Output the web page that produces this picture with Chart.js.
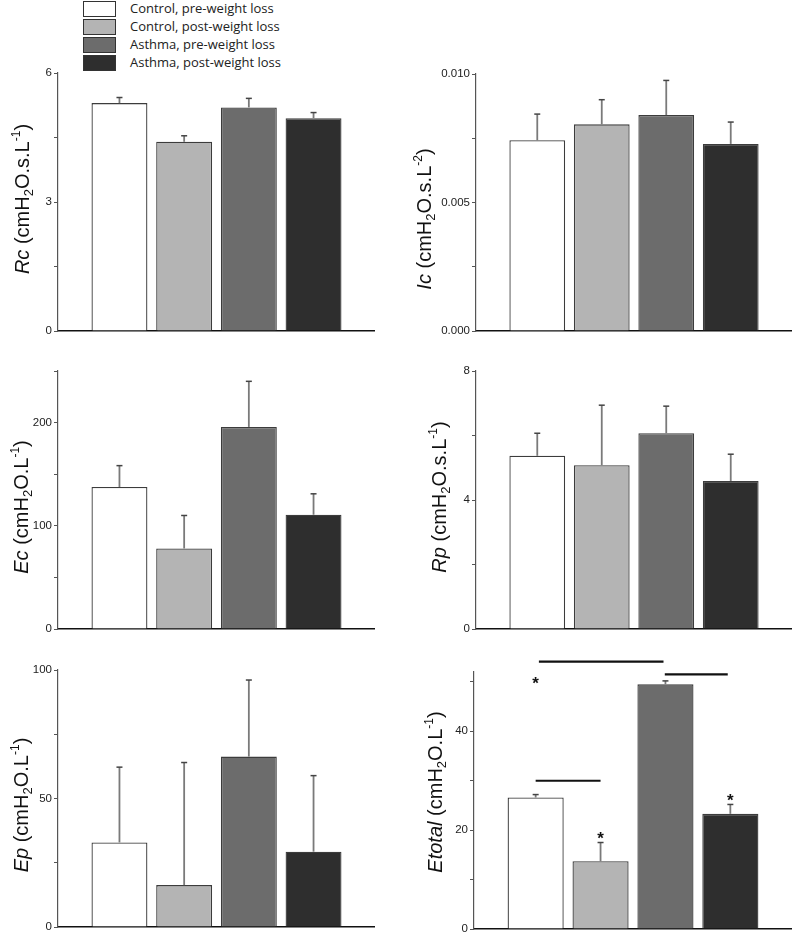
<!DOCTYPE html>
<html>
<head>
<meta charset="utf-8">
<script src="https://cdn.jsdelivr.net/npm/chart.js@4.4.0/dist/chart.umd.min.js"></script>
<style>
  body { margin: 0; background: #fff; width: 792px; height: 932px; position: relative; overflow: hidden; font-family: "Liberation Sans", Arial, sans-serif; }
  canvas { position: absolute; }
  .ytitle { position: absolute; white-space: nowrap; font-size: 20px; line-height: 20px; color: #111; transform: translate(-50%, -50%) rotate(-90deg); }
  .ytitle sub { font-size: 13px; vertical-align: -0.3em; line-height: 0; }
  .ytitle sup { font-size: 12px; vertical-align: 0.75em; line-height: 0; }
  .leg-row { position: absolute; left: 83px; height: 16px; }
  .leg-box { position: absolute; left: 0; top: 0; width: 31px; height: 14px; border: 1.5px solid #333; }
  .leg-text { position: absolute; left: 47px; top: -1px; white-space: nowrap; font-family: "Open Sans", sans-serif; font-size: 13px; line-height: 17px; color: #222; }
</style>
</head>
<body>
<div id="legend"></div>
<canvas id="rc"></canvas>
<canvas id="ic"></canvas>
<canvas id="ec"></canvas>
<canvas id="rp"></canvas>
<canvas id="ep"></canvas>
<canvas id="et"></canvas>
<div class="ytitle" style="left:22px;top:199px"><i>Rc</i> (cmH<sub>2</sub>O.s.L<sup>-1</sup>)</div>
<div class="ytitle" style="left:424px;top:219px"><i>Ic</i> (cmH<sub>2</sub>O.s.L<sup>-2</sup>)</div>
<div class="ytitle" style="left:21px;top:507px"><i>Ec</i> (cmH<sub>2</sub>O.L<sup>-1</sup>)</div>
<div class="ytitle" style="left:439px;top:497px"><i>Rp</i> (cmH<sub>2</sub>O.s.L<sup>-1</sup>)</div>
<div class="ytitle" style="left:21px;top:805px"><i>Ep</i> (cmH<sub>2</sub>O.L<sup>-1</sup>)</div>
<div class="ytitle" style="left:435px;top:792px"><i>Etotal</i> (cmH<sub>2</sub>O.L<sup>-1</sup>)</div>

<script>
// groups and bar fills
const groups = ["Control, pre-weight loss", "Control, post-weight loss", "Asthma, pre-weight loss", "Asthma, post-weight loss"];
const barColors = ["#ffffff", "#b4b4b4", "#6c6c6c", "#2e2e2e"];
const barX = [1, 2, 3, 4];

// means and upper error (SE) per panel
const rcMean = [5.30, 4.40, 5.20, 4.95];
const rcErr = [0.13, 0.14, 0.21, 0.13];
const icMean = [0.00742, 0.00804, 0.0084, 0.00728];
const icErr = [0.00102, 0.00096, 0.00135, 0.00085];
const ecMean = [137.6, 78, 195.8, 110.7];
const ecErr = [20.7, 32, 44.2, 20.3];
const rpMean = [5.37, 5.08, 6.07, 4.59];
const rpErr = [0.70, 1.86, 0.84, 0.83];
const epMean = [32.9, 16.3, 66.3, 29.3];
const epErr = [29.3, 47.7, 29.8, 29.6];
const etMean = [26.6, 13.7, 49.5, 23.3];
const etErr = [0.6, 3.8, 0.7, 1.9];

// y ticks and their labels
const rcTicks = [0, 1.5, 3, 4.5, 6];
const rcLabels = ["0", "", "3", "", "6"];
const icTicks = [0, 0.0025, 0.005, 0.0075, 0.01];
const icLabels = ["0.000", "", "0.005", "", "0.010"];
const ecTicks = [0, 50, 100, 150, 200, 250];
const ecLabels = ["0", "", "100", "", "200", ""];
const rpTicks = [0, 2, 4, 6, 8];
const rpLabels = ["0", "", "4", "", "8"];
const epTicks = [0, 25, 50, 75, 100];
const epLabels = ["0", "", "50", "", "100"];
const etTicks = [0, 10, 20, 30, 40, 50];
const etLabels = ["0", "", "20", "", "40", ""];

// significance marks on Etotal: [x1, x2, y] and [x, y]
const etSigLines = [[1.05, 2.97, 54.1], [2.99, 3.96, 51.5], [1.0, 2.0, 30]];
const etStars = [[1, 50.4], [2, 19.0], [4, 26.6]];

// legend
const legend = document.getElementById("legend");
groups.forEach((g, i) => {
  const row = document.createElement("div");
  row.className = "leg-row";
  row.style.top = (1 + i * 18) + "px";
  row.innerHTML = `<div class="leg-box" style="background:${barColors[i]}"></div><div class="leg-text">${g}</div>`;
  legend.appendChild(row);
});

const errorBars = {
  id: "errorBars",
  afterDatasetsDraw(chart) {
    const errs = chart.options.plugins.errorBars.errs;
    const ctx = chart.ctx;
    const y = chart.scales.y;
    chart.getDatasetMeta(0).data.forEach((bar, i) => {
      const v = chart.data.datasets[0].data[i].y;
      const top = y.getPixelForValue(v + errs[i]);
      ctx.save();
      ctx.strokeStyle = "#7a7a7a";
      ctx.lineWidth = 1.8;
      ctx.beginPath();
      ctx.moveTo(bar.x, bar.y);
      ctx.lineTo(bar.x, top);
      ctx.stroke();
      ctx.strokeStyle = "#444";
      ctx.lineWidth = 1.5;
      ctx.beginPath();
      ctx.moveTo(bar.x - 3, top);
      ctx.lineTo(bar.x + 3, top);
      ctx.stroke();
      ctx.restore();
    });
  },
};

const sigMarks = {
  id: "sigMarks",
  afterDraw(chart) {
    const opts = chart.options.plugins.sigMarks;
    if (!opts.lines) return;
    const ctx = chart.ctx;
    const xs = chart.scales.x, ys = chart.scales.y;
    ctx.save();
    ctx.strokeStyle = "#111";
    ctx.lineWidth = 2.2;
    opts.lines.forEach(([x1, x2, v]) => {
      ctx.beginPath();
      ctx.moveTo(xs.getPixelForValue(x1), ys.getPixelForValue(v));
      ctx.lineTo(xs.getPixelForValue(x2), ys.getPixelForValue(v));
      ctx.stroke();
    });
    ctx.fillStyle = "#111";
    ctx.font = "bold 17px 'Liberation Sans', Arial";
    ctx.textAlign = "center";
    ctx.textBaseline = "middle";
    opts.stars.forEach(([x, v]) => {
      ctx.fillText("*", xs.getPixelForValue(x), ys.getPixelForValue(v) + 4);
    });
    ctx.restore();
  },
};

const yW = 58;
function makePanel(id, layout, mean, err, max, ticks, labels, extra) {
  const padTop = layout.padTop || 10;
  const padBottom = 10;
  const canvas = document.getElementById(id);
  const left = layout.chartLeft - yW;
  const top = layout.top - padTop;
  const w = layout.chartRight - left;
  const h = layout.bottom + padBottom - top;
  canvas.style.left = left + "px";
  canvas.style.top = top + "px";
  canvas.style.width = w + "px";
  canvas.style.height = h + "px";
  canvas.width = w;
  canvas.height = h;

  new Chart(canvas, {
    type: "bar",
    data: {
      datasets: [{
        data: barX.map((x, i) => ({ x: x, y: mean[i] })),
        backgroundColor: barColors,
        borderColor: "#3c3c3c",
        borderWidth: 1.3,
        barPercentage: 0.91,
        categoryPercentage: 1,
      }],
    },
    options: {
      responsive: false,
      animation: false,
      devicePixelRatio: 1,
      layout: { padding: { top: padTop, bottom: padBottom, left: 0, right: 0 } },
      scales: {
        x: {
          type: "linear",
          min: 0.05,
          max: 4.95,
          offset: false,
          grid: { display: false },
          ticks: { display: false },
          border: { display: true, color: "#111", width: 1.5 },
          afterFit: (s) => { s.height = 0; },
        },
        y: {
          min: 0,
          max: max,
          afterBuildTicks: (s) => { s.ticks = ticks.map((v) => ({ value: v })); },
          afterFit: (s) => { s.width = yW; },
          grid: { display: true, drawOnChartArea: false, drawTicks: true, tickLength: 4, color: "#555", lineWidth: 1 },
          border: { display: true, color: "#555", width: 1.2 },
          ticks: {
            padding: 2,
            color: "#222",
            font: { family: "'Liberation Sans', Arial", size: 11.5 },
            callback: (v, i) => labels[i],
          },
        },
      },
      plugins: {
        legend: { display: false },
        tooltip: { enabled: false },
        errorBars: { errs: err },
        sigMarks: extra || {},
      },
    },
    plugins: [errorBars, sigMarks],
  });
}

makePanel("rc", { chartLeft: 58, chartRight: 375, top: 73, bottom: 331 }, rcMean, rcErr, 6, rcTicks, rcLabels);
makePanel("ic", { chartLeft: 476, chartRight: 792, top: 74, bottom: 331 }, icMean, icErr, 0.01, icTicks, icLabels);
makePanel("ec", { chartLeft: 58, chartRight: 375, top: 371, bottom: 629 }, ecMean, ecErr, 250, ecTicks, ecLabels);
makePanel("rp", { chartLeft: 476, chartRight: 792, top: 371, bottom: 629 }, rpMean, rpErr, 8, rpTicks, rpLabels);
makePanel("ep", { chartLeft: 58, chartRight: 375, top: 670, bottom: 927 }, epMean, epErr, 100, epTicks, epLabels);
makePanel("et", { chartLeft: 474, chartRight: 792, top: 671.5, bottom: 929, padTop: 18 }, etMean, etErr, 52, etTicks, etLabels,
  { lines: etSigLines, stars: etStars });
</script>
</body>
</html>
